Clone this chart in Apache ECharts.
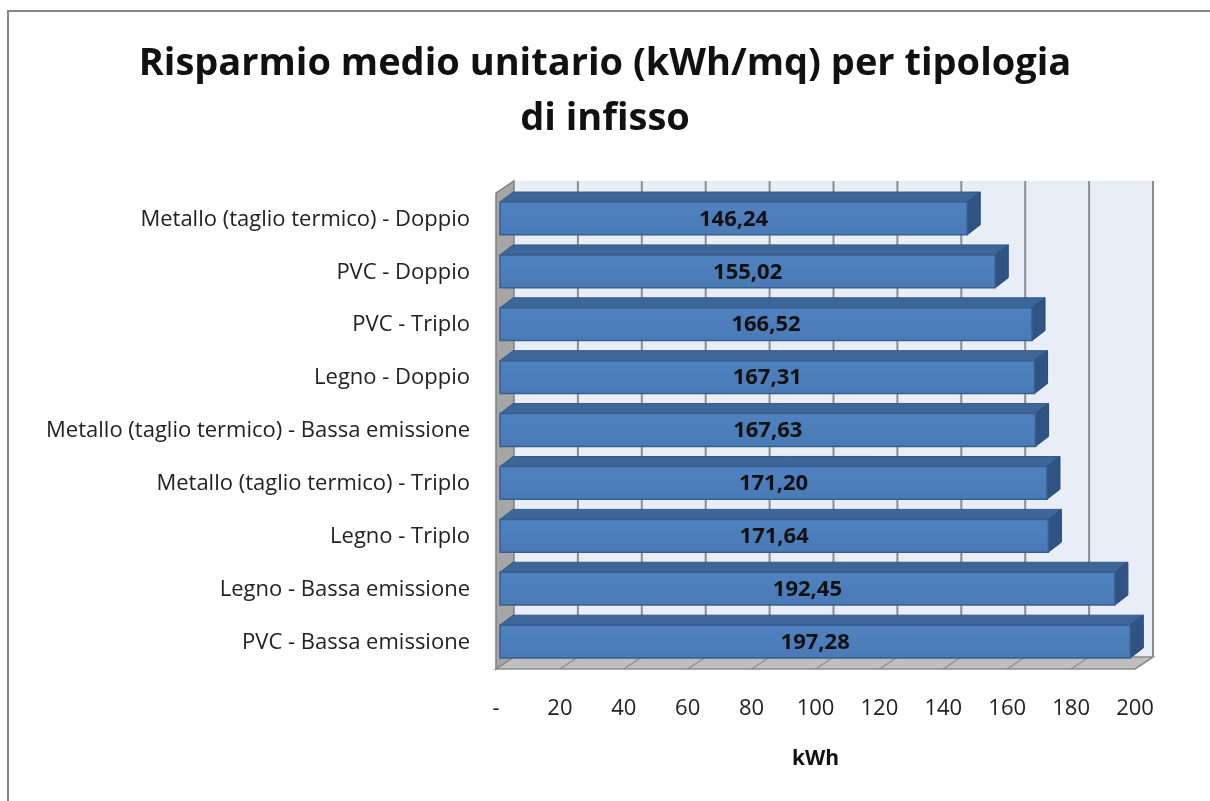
<!DOCTYPE html>
<html>
<head>
<meta charset="utf-8">
<script src="https://cdn.jsdelivr.net/npm/echarts@6/dist/echarts.min.js"></script>
<style>
  html, body { margin: 0; padding: 0; background: #fff; }
  #main { width: 1210px; height: 801px; }
</style>
</head>
<body>
<div id="main"></div>
<script>
var categories = [
  'Metallo (taglio termico) - Doppio',
  'PVC - Doppio',
  'PVC - Triplo',
  'Legno - Doppio',
  'Metallo (taglio termico) - Bassa emissione',
  'Metallo (taglio termico) - Triplo',
  'Legno - Triplo',
  'Legno - Bassa emissione',
  'PVC - Bassa emissione'
]
var values = [146.24, 155.02, 166.52, 167.31, 167.63, 171.20, 171.64, 192.45, 197.28]
var xTicks = [0, 20, 40, 60, 80, 100, 120, 140, 160, 180, 200]

var FONT = '"Open Sans", Lato, sans-serif'
// profondita' della "scatola" 3D e delle barre
var wallDx = 18, wallDy = -12
var barDx = 13, barDy = -10

function fmt (v) {
  return v.toFixed(2).replace('.', ',')
}

// pareti, pavimento e griglia sul fondo
function renderFrame (params, api) {
  var cs = params.coordSys
  var left = cs.x, top = cs.y, right = cs.x + cs.width, bottom = cs.y + cs.height
  var kids = []
  kids.push({
    type: 'rect',
    shape: { x: left + wallDx, y: top + wallDy, width: cs.width, height: cs.height },
    style: { fill: '#e9edf5' }
  })
  xTicks.forEach(function (t) {
    if (t === 0) return
    var x = api.coord([t, 0])[0] + wallDx
    kids.push({
      type: 'line',
      shape: { x1: x, y1: top + wallDy, x2: x, y2: bottom + wallDy },
      style: { stroke: '#8c8c8c', lineWidth: 2 }
    })
  })
  kids.push({
    type: 'polygon',
    shape: { points: [[left, top], [left + wallDx, top + wallDy], [left + wallDx, bottom + wallDy], [left, bottom]] },
    style: { fill: '#a6a6a6', stroke: '#808080', lineWidth: 1.5 }
  })
  kids.push({
    type: 'polygon',
    shape: { points: [[left, bottom], [left + wallDx, bottom + wallDy], [right + wallDx, bottom + wallDy], [right, bottom]] },
    style: { fill: '#bfbfbf', stroke: '#8c8c8c', lineWidth: 1.5 }
  })
  xTicks.forEach(function (t) {
    var x = api.coord([t, 0])[0]
    kids.push({
      type: 'line',
      shape: { x1: x, y1: bottom, x2: x + wallDx, y2: bottom + wallDy },
      style: { stroke: '#8c8c8c', lineWidth: 1.2 }
    })
  })
  return { type: 'group', children: kids }
}

function renderBar (params, api) {
  var v = api.value(0)
  var c = api.value(1)
  var p0 = api.coord([0, c])
  var p1 = api.coord([v, c])
  var band = api.size([0, 1])[1]
  var h = band * 0.62
  var x0 = p0[0] + 4
  var x1 = p1[0] + 4
  var yt = p0[1] - h / 2 - 1
  var yb = yt + h
  return {
    type: 'group',
    children: [
      {
        type: 'polygon',
        shape: { points: [[x0, yt], [x0 + barDx, yt + barDy], [x1 + barDx, yt + barDy], [x1, yt]] },
        style: { fill: '#3d6699', stroke: '#34588a', lineWidth: 1 }
      },
      {
        type: 'polygon',
        shape: { points: [[x1, yt], [x1 + barDx, yt + barDy], [x1 + barDx, yb + barDy], [x1, yb]] },
        style: { fill: '#2f5483', stroke: '#2a4b76', lineWidth: 1 }
      },
      {
        type: 'rect',
        shape: { x: x0, y: yt, width: x1 - x0, height: h },
        style: {
          fill: new echarts.graphic.LinearGradient(0, 0, 0, 1, [
            { offset: 0, color: '#4f82c0' },
            { offset: 1, color: '#4a7ab6' }
          ]),
          stroke: '#385e8e',
          lineWidth: 1.5
        }
      },
      {
        type: 'text',
        style: {
          text: fmt(v),
          x: (x0 + x1) / 2,
          y: (yt + yb) / 2 + 1,
          align: 'center',
          verticalAlign: 'middle',
          fill: '#111',
          font: 'bold 22px ' + FONT
        }
      }
    ]
  }
}

var chart = echarts.init(document.getElementById('main'))
var option = {
  backgroundColor: '#ffffff',
  animation: false,
  title: {
    text: 'Risparmio medio unitario (kWh/mq) per tipologia\ndi infisso',
    left: 'center',
    top: 32,
    textStyle: {
      fontFamily: FONT,
      fontWeight: 'bold',
      fontSize: 38,
      lineHeight: 55,
      color: '#111'
    }
  },
  graphic: [{
    type: 'rect',
    shape: { x: 8, y: 11, width: 1400, height: 1000 },
    style: { fill: 'none', stroke: '#868686', lineWidth: 2 },
    silent: true
  }],
  grid: {
    left: 496,
    right: 75,
    top: 193,
    bottom: 132
  },
  xAxis: {
    type: 'value',
    min: 0,
    max: 200,
    interval: 20,
    name: 'kWh',
    nameLocation: 'middle',
    nameGap: 80,
    nameTextStyle: { fontFamily: FONT, fontWeight: 'bold', fontSize: 21, color: '#111' },
    axisLine: { show: false },
    axisTick: { show: false },
    splitLine: { show: false },
    axisLabel: {
      margin: 29,
      fontFamily: FONT,
      fontSize: 22,
      color: '#222',
      formatter: function (v) { return v === 0 ? '-' : String(v) }
    }
  },
  yAxis: {
    type: 'category',
    inverse: true,
    data: categories,
    axisLine: { show: false },
    axisTick: { show: false },
    splitLine: { show: false },
    axisLabel: {
      margin: 26,
      fontFamily: FONT,
      fontSize: 22,
      color: '#222'
    }
  },
  series: [
    {
      type: 'custom',
      z: 1,
      silent: true,
      renderItem: renderFrame,
      data: [[0, 0]]
    },
    {
      type: 'custom',
      z: 2,
      renderItem: renderBar,
      encode: { x: 0, y: 1 },
      data: values.map(function (v, i) { return [v, i] })
    }
  ]
}
chart.setOption(option)
window.onresize = chart.resize
</script>
</body>
</html>
